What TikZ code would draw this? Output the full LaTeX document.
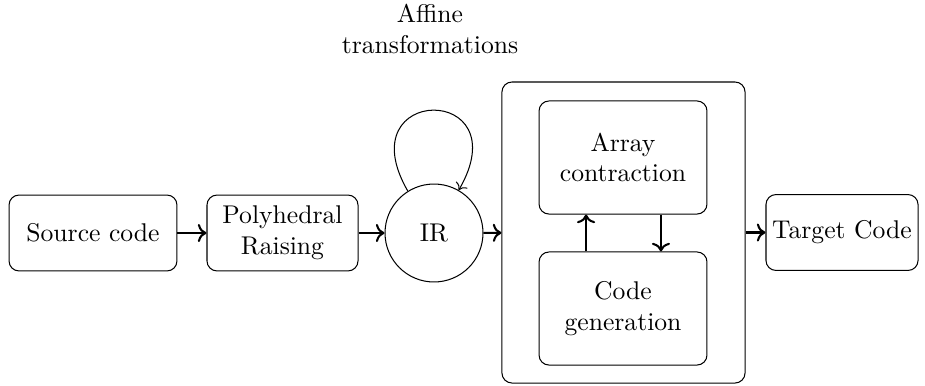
\documentclass[tikz,border=0pt]{standalone}
\usetikzlibrary{arrows.meta}
\begin{document}
\begin{tikzpicture}[x=0.39pt,y=-0.39pt,
  box/.style={draw,rounded corners=3.9pt,align=center,inner sep=2pt},
  smallbox/.style={box,minimum height=29.6pt},
  inbox/.style={box,minimum width=65.5pt,minimum height=44.1pt},
  flow/.style={thick,->}]
\useasboundingbox (0,0) rectangle (925,385);
\node[smallbox,minimum width=65.5pt] (src) at (93,233) {Source code};
\node[smallbox,minimum width=58.9pt] (poly) at (282.5,233) {Polyhedral\\Raising};
\node[draw,circle,minimum size=38.2pt,inner sep=0pt] (ir) at (434,233) {IR};
\node[box,minimum width=94.8pt,minimum height=117.4pt] (big) at (623.5,232.5) {};
\node[inbox] (ac) at (623,157.5) {Array\\contraction};
\node[inbox] (cg) at (623,308.5) {Code\\generation};
\node[smallbox,minimum width=59.3pt] (tgt) at (842,232.5) {Target Code};
\node[align=center] (aff) at (430,29) {Affine\\transformations};
\draw[flow] (src) -- (poly);
\draw[flow] (poly) -- (ir);
\draw[flow] (ir) -- (big);
\draw[flow] (big) -- (tgt);
\draw[flow] ([xshift=-14.4pt]cg.north) -- ([xshift=-14.4pt]ac.south);
\draw[flow] ([xshift=14.8pt]ac.south) -- ([xshift=14.8pt]cg.north);
\draw[->] (ir.122) to[out=120,in=60,looseness=6.2] (ir.60);
\end{tikzpicture}
\end{document}
